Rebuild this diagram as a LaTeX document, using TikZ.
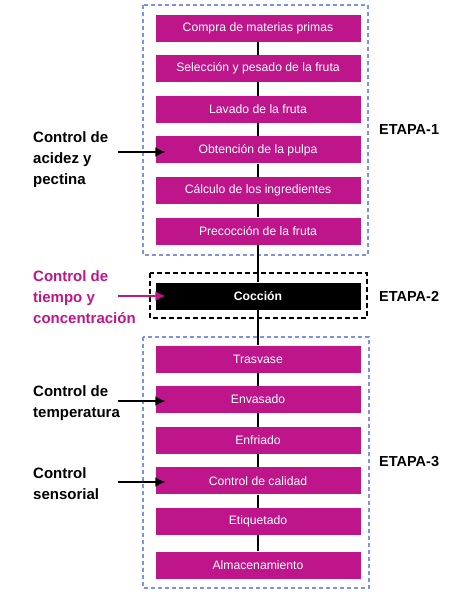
\documentclass[tikz,border=0pt]{standalone}
\usepackage{fontspec}
\setmainfont{Liberation Sans}
\usetikzlibrary{arrows.meta}
\definecolor{fucsia}{RGB}{190,22,138}
\definecolor{azuldash}{RGB}{125,145,235}
\tikzstyle{paso} = [rectangle, fill=fucsia, text=white, minimum width=205pt,
    minimum height=27pt, font=\fontsize{12.2}{14}\selectfont]
\tikzstyle{ctrl} = [align=left, anchor=west, inner sep=0pt,
    font=\bfseries\fontsize{15}{21}\selectfont]
\tikzstyle{etapa} = [anchor=west, inner sep=0pt, font=\bfseries\fontsize{14.5}{17}\selectfont]
\tikzstyle{linea} = [line width=1.3pt]
\tikzstyle{flecha} = [line width=1.8pt, -{Latex[length=10pt,width=10pt]}]

\begin{document}
\begin{tikzpicture}[x=1pt,y=-1pt,node distance=40.6pt]
  \useasboundingbox (0,0) rectangle (474,592);
  % marcos de las etapas
  \draw[azuldash,line width=1.4pt,dash pattern=on 4pt off 3pt] (143,5) rectangle (368,255);
  \draw[black,line width=1.4pt,dash pattern=on 5pt off 3pt] (150,273) rectangle (367,318);
  \draw[azuldash,line width=1.4pt,dash pattern=on 4pt off 3pt] (143,337) rectangle (369,588);

  \node[paso] (compra) at (258,28) {Compra de materias primas};
  \node[paso] (selec) [below of=compra] {Selección y pesado de la fruta};
  \node[paso] (lavado) [below of=selec] {Lavado de la fruta};
  \node[paso] (pulpa) [below of=lavado] {Obtención de la pulpa};
  \node[paso] (calc) [below of=pulpa] {Cálculo de los ingredientes};
  \node[paso] (precoc) [below of=calc] {Precocción de la fruta};
  \node[paso,fill=black,font=\bfseries\fontsize{12.2}{14}\selectfont] (coccion)
      [below of=precoc,yshift=-24.4pt] {Cocción};
  \node[paso] (trasv) [below of=coccion,yshift=-22.4pt] {Trasvase};
  \node[paso] (envas) [below of=trasv] {Envasado};
  \node[paso] (enfri) [below of=envas] {Enfriado};
  \node[paso] (calid) [below of=enfri] {Control de calidad};
  \node[paso] (etiq) [below of=calid] {Etiquetado};
  \node[paso] (almac) [below of=etiq,yshift=-3pt] {Almacenamiento};

  \node[etapa] (e1) at (379,130) {ETAPA-1};
  \node[etapa] (e2) at (379,296) {ETAPA-2};
  \node[etapa] (e3) at (379,462) {ETAPA-3};

  \node[ctrl] (acidez) at (33,160) {Control de\\acidez y\\pectina};
  \node[ctrl,text=fucsia] (tiempo) at (33,297) {Control de\\tiempo y\\concentración};
  \node[ctrl] (temp) at (33,403.5) {Control de\\temperatura};
  \node[ctrl] (sensor) at (33,483.5) {Control\\sensorial};

  \coordinate (c1) at (118,152);
  \coordinate (c2) at (118,296);
  \coordinate (c3) at (118,401);
  \coordinate (c4) at (118,482);

  \path[linea] (compra) edge (selec);
  \path[linea] (selec) edge (lavado);
  \path[linea] (lavado) edge (pulpa);
  \path[linea] (pulpa) edge (calc);
  \path[linea] (calc) edge (precoc);
  \path[linea] (precoc) edge (coccion);
  \path[linea] (coccion) edge (trasv);
  \path[linea] (trasv) edge (envas);
  \path[linea] (envas) edge (enfri);
  \path[linea] (enfri) edge (calid);
  \path[linea] (calid) edge (etiq);
  \path[linea] (etiq) edge (almac);

  \draw[flecha] (c1) -- ([xshift=10pt]pulpa.west |- c1);
  \draw[flecha,fucsia] (c2) -- ([xshift=10pt]coccion.west |- c2);
  \draw[flecha] (c3) -- ([xshift=10pt]envas.west |- c3);
  \draw[flecha] (c4) -- ([xshift=10pt]calid.west |- c4);
\end{tikzpicture}
\end{document}
